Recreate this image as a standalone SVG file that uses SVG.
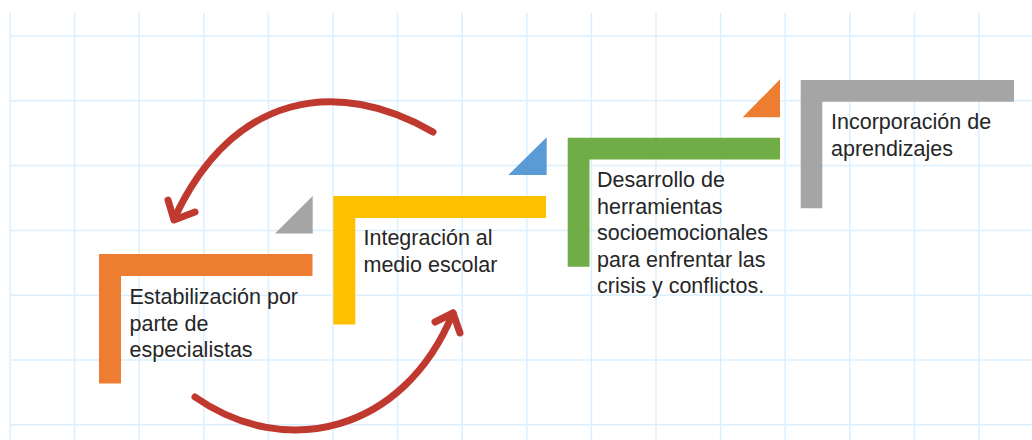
<svg xmlns="http://www.w3.org/2000/svg" width="1032" height="440" viewBox="0 0 1032 440">
  <style>
    .grid line { stroke: #dcefff; stroke-width: 1.5; }
    .lbl { font-family: "Liberation Sans", Arial, sans-serif; font-size: 21.5px; fill: #262626; }
    .arc { fill: none; stroke: #c0392f; stroke-width: 7; stroke-linecap: round; stroke-linejoin: round; }
  </style>
  <rect x="0" y="0" width="1032" height="440" fill="#ffffff"/>
  <g class="grid">
    <line x1="10" y1="13" x2="10" y2="440"/>
    <line x1="74.6" y1="13" x2="74.6" y2="440"/>
    <line x1="139.2" y1="13" x2="139.2" y2="440"/>
    <line x1="203.8" y1="13" x2="203.8" y2="440"/>
    <line x1="268.4" y1="13" x2="268.4" y2="440"/>
    <line x1="333" y1="13" x2="333" y2="440"/>
    <line x1="397.6" y1="13" x2="397.6" y2="440"/>
    <line x1="462.2" y1="13" x2="462.2" y2="440"/>
    <line x1="526.8" y1="13" x2="526.8" y2="440"/>
    <line x1="591.4" y1="13" x2="591.4" y2="440"/>
    <line x1="656" y1="13" x2="656" y2="440"/>
    <line x1="720.6" y1="13" x2="720.6" y2="440"/>
    <line x1="785.2" y1="13" x2="785.2" y2="440"/>
    <line x1="849.8" y1="13" x2="849.8" y2="440"/>
    <line x1="914.4" y1="13" x2="914.4" y2="440"/>
    <line x1="979" y1="13" x2="979" y2="440"/>
    <line x1="10" y1="36" x2="1032" y2="36"/>
    <line x1="10" y1="100.8" x2="1032" y2="100.8"/>
    <line x1="10" y1="165.6" x2="1032" y2="165.6"/>
    <line x1="10" y1="230.4" x2="1032" y2="230.4"/>
    <line x1="10" y1="295.2" x2="1032" y2="295.2"/>
    <line x1="10" y1="360" x2="1032" y2="360"/>
    <line x1="10" y1="424.8" x2="1032" y2="424.8"/>
  </g>

  <g id="step1">
    <path d="M99,254 H312.5 V276 H121 V383.5 H99 Z" fill="#ed7d31"/>
    <text class="lbl"><tspan x="129.5" y="304">Estabilización por</tspan><tspan x="129.5" y="330.5">parte de</tspan><tspan x="129.5" y="357">especialistas</tspan></text>
  </g>
  <g id="tri1">
    <polygon points="312.7,196 312.7,233.5 275,233.5" fill="#a5a5a5"/>
  </g>
  <g id="step2">
    <path d="M333.3,196 H546 V218 H355.3 V324.5 H333.3 Z" fill="#ffc000"/>
    <text class="lbl"><tspan x="363.5" y="245">Integración al</tspan><tspan x="363.5" y="271.5">medio escolar</tspan></text>
  </g>
  <g id="tri2">
    <polygon points="546.7,137.3 546.7,175 508.3,175" fill="#5b9bd5"/>
  </g>
  <g id="step3">
    <path d="M567.7,137.7 H780 V159.5 H589.5 V266.7 H567.7 Z" fill="#70ad47"/>
    <text class="lbl"><tspan x="597" y="187">Desarrollo de</tspan><tspan x="597" y="213.6">herramientas</tspan><tspan x="597" y="240.2">socioemocionales</tspan><tspan x="597" y="266.8">para enfrentar las</tspan><tspan x="597" y="293.4">crisis y conflictos.</tspan></text>
  </g>
  <g id="tri3">
    <polygon points="780,79.3 780,117.3 742.7,117.3" fill="#ed7d31"/>
  </g>
  <g id="step4">
    <path d="M800.7,80 H1014 V101.7 H822.3 V208.3 H800.7 Z" fill="#a5a5a5"/>
    <text class="lbl"><tspan x="831" y="129">Incorporación de</tspan><tspan x="831" y="155.5">aprendizajes</tspan></text>
  </g>

  <g id="connectors">
    <path class="arc" d="M433,132 C338,77 233,92 174,219"/>
    <path class="arc" d="M168,200 L174,220 L195,212"/>
    <path class="arc" d="M195,397 C285,460 404,433 453,313"/>
    <path class="arc" d="M435,322 L453,313 L460,333"/>
  </g>
</svg>
